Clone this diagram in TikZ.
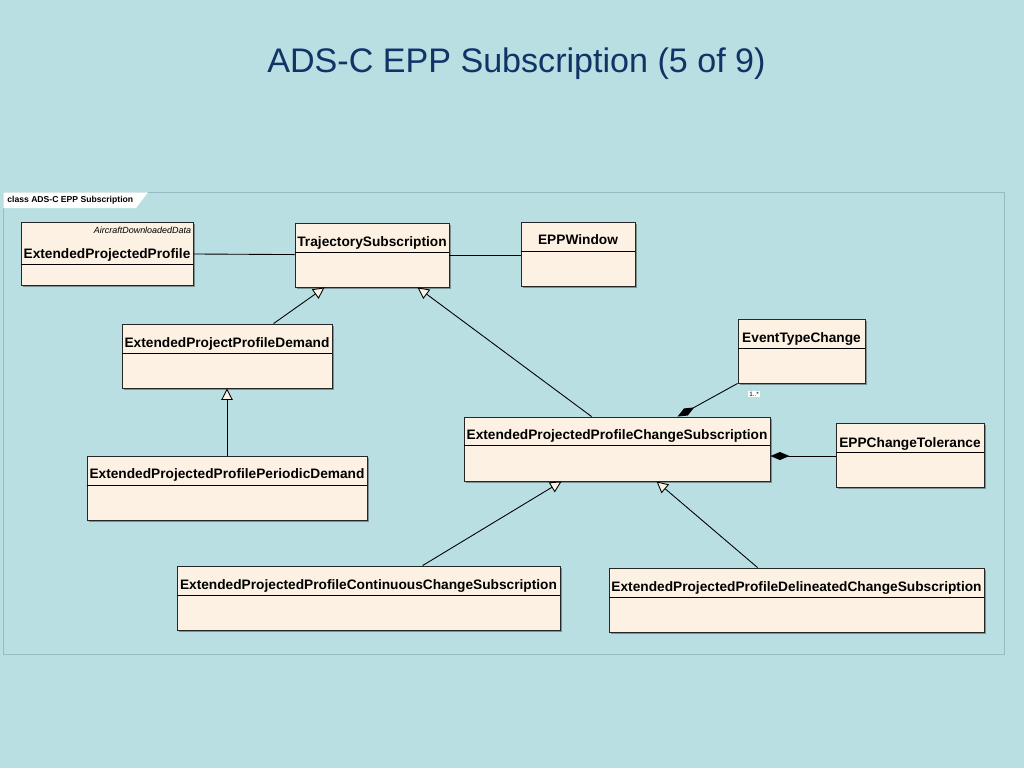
\documentclass[tikz,border=0pt]{standalone}
\usepackage{fontspec}
\setmainfont{Liberation Sans}
\usetikzlibrary{arrows.meta,calc,shadows}
\newlength{\pxu}
\setlength{\pxu}{0.02cm}
\definecolor{slidebg}{RGB}{185,223,227}
\definecolor{classfill}{RGB}{252,241,227}
\definecolor{titleblue}{RGB}{16,52,102}
\definecolor{framegray}{RGB}{150,188,194}
\tikzset{
  classbox/.style={draw=black!85, fill=classfill, line width=0.5pt, inner sep=0pt,
    drop shadow={shadow xshift=0.04cm, shadow yshift=-0.04cm, fill=black, opacity=0.35}},
  classname/.style={font=\fontsize{7.8}{9}\selectfont\bfseries, inner sep=0pt, text height=5.6pt, text depth=1.6pt},
  generalize/.style={line width=0.5pt, -{Triangle[open, length=0.23cm, width=0.23cm, fill=classfill]}},
  compose/.style={line width=0.5pt, -{Diamond[length=0.38cm, width=0.16cm]}},
}
\begin{document}
\begin{tikzpicture}[x=0.02cm, y=-0.02cm]
  \fill[slidebg] (0,0) rectangle (1024,768);
  \node[font=\fontsize{19.4}{22}\selectfont, text=titleblue, inner sep=0pt, anchor=base] (title) at (516.5,72) {ADS-C EPP Subscription (5 of 9)};

  % frame
  \draw[framegray, line width=0.5pt] (3,192) rectangle (1004,654);
  \fill[white] (3.3,192.3) -- (148,192.3) -- (136,208) -- (3.3,208) -- cycle;
  \node[font=\fontsize{4.9}{6}\selectfont\bfseries, inner sep=0pt, anchor=west] (frame-label) at (7,200) {class ADS-C EPP Subscription};

  % classes
  \node[classbox, minimum width=172\pxu, minimum height=63\pxu] (epp) at (107,253.5) {};
  \draw ($(epp.north west)+(0,43)$) -- ($(epp.north east)+(0,43)$);
  \node[font=\fontsize{5.1}{6}\selectfont\itshape, inner sep=0pt, anchor=east] (epp-stereo) at ($(epp.north east)+(-2,9)$) {AircraftDownloadedData};
  \node[classname] (epp-name) at ($(epp.north)+(0,33)$) {ExtendedProjectedProfile};

  \node[classbox, minimum width=154\pxu, minimum height=64\pxu] (traj) at (372,255) {};
  \draw ($(traj.north west)+(0,30)$) -- ($(traj.north east)+(0,30)$);
  \node[classname] (traj-name) at ($(traj.north)+(0,20)$) {TrajectorySubscription};

  \node[classbox, minimum width=114\pxu, minimum height=64\pxu] (win) at (578,254) {};
  \draw ($(win.north west)+(0,30)$) -- ($(win.north east)+(0,30)$);
  \node[classname] (win-name) at ($(win.north)+(0,19)$) {EPPWindow};

  \node[classbox, minimum width=210\pxu, minimum height=64\pxu] (demand) at (227,356) {};
  \draw ($(demand.north west)+(0,30)$) -- ($(demand.north east)+(0,30)$);
  \node[classname] (demand-name) at ($(demand.north)+(0,20)$) {ExtendedProjectProfileDemand};

  \node[classbox, minimum width=280\pxu, minimum height=64\pxu] (periodic) at (227,488) {};
  \draw ($(periodic.north west)+(0,30)$) -- ($(periodic.north east)+(0,30)$);
  \node[classname] (periodic-name) at ($(periodic.north)+(0,19)$) {ExtendedProjectedProfilePeriodicDemand};

  \node[classbox, minimum width=127\pxu, minimum height=64\pxu] (event) at (801.5,351) {};
  \draw ($(event.north west)+(0,30)$) -- ($(event.north east)+(0,30)$);
  \node[classname] (event-name) at ($(event.north)+(0,20)$) {EventTypeChange};

  \node[classbox, minimum width=306\pxu, minimum height=64\pxu] (changesub) at (617,449) {};
  \draw ($(changesub.north west)+(0,29)$) -- ($(changesub.north east)+(0,29)$);
  \node[classname] (changesub-name) at ($(changesub.north)+(0,19)$) {ExtendedProjectedProfileChangeSubscription};

  \node[classbox, minimum width=148\pxu, minimum height=64\pxu] (tol) at (910,455) {};
  \draw ($(tol.north west)+(0,30)$) -- ($(tol.north east)+(0,30)$);
  \node[classname] (tol-name) at ($(tol.north)+(0,21)$) {EPPChangeTolerance};

  \node[classbox, minimum width=383\pxu, minimum height=64\pxu] (continuous) at (368.5,598) {};
  \draw ($(continuous.north west)+(0,30)$) -- ($(continuous.north east)+(0,30)$);
  \node[classname] (continuous-name) at ($(continuous.north)+(0,20)$) {ExtendedProjectedProfileContinuousChangeSubscription};

  \node[classbox, minimum width=375\pxu, minimum height=64\pxu] (delineated) at (796.5,600) {};
  \draw ($(delineated.north west)+(0,30)$) -- ($(delineated.north east)+(0,30)$);
  \node[classname] (delineated-name) at ($(delineated.north)+(0,20)$) {ExtendedProjectedProfileDelineatedChangeSubscription};

  % associations
  \draw[line width=0.5pt] (epp) -- (traj);
  \draw[line width=0.5pt] (traj.east) -- (traj.east -| win.west);
  \draw[generalize] ($(demand.north west)+(152,0)$) -- ($(traj.south west)+(30,0)$);
  \draw[generalize] (periodic.north) -- (demand.south);
  \draw[generalize] ($(changesub.north west)+(128,0)$) -- ($(traj.south west)+(123,0)$);
  \draw[compose] (event.south west) -- ($(changesub.north west)+(214,0)$);
  \node[fill=white, inner sep=0.6pt, font=\fontsize{3.6}{4}\selectfont] (event-mult) at (754,394) {1..*};
  \draw[compose] ($(tol.west)+(0,1)$) -- ($(tol.west -| changesub.east)+(0,1)$);
  \draw[generalize] ($(continuous.north west)+(246,0)$) -- ($(changesub.south west)+(98,0)$);
  \draw[generalize] ($(delineated.north west)+(149,0)$) -- ($(changesub.south west)+(193,0)$);
\end{tikzpicture}
\end{document}
